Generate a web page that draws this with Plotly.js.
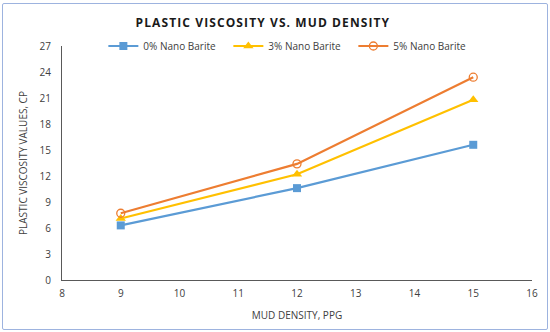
<!DOCTYPE html>
<html>
<head>
<meta charset="utf-8">
<script src="https://cdn.plot.ly/plotly-3.0.1.min.js"></script>
<style>
html,body{margin:0;padding:0;background:#fff;}
#wrap{position:relative;width:550px;height:332px;}
#chart{width:550px;height:332px;}
#frame{position:absolute;left:2px;top:3px;width:544px;height:325px;border:1px solid #9DB3DF;border-radius:2px;pointer-events:none;}
.gtitle{letter-spacing:1.1px;}
</style>
</head>
<body>
<div id="wrap"><div id="chart"></div><div id="frame"></div></div>
<script>
const density = [9, 12, 15];
const seriesNames = ["0% Nano Barite", "3% Nano Barite", "5% Nano Barite"];
const pv0 = [6.3, 10.6, 15.6];
const pv3 = [7.1, 12.2, 20.8];
const pv5 = [7.7, 13.4, 23.4];
const yTicks = [0, 3, 6, 9, 12, 15, 18, 21, 24, 27];
const xTicks = [8, 9, 10, 11, 12, 13, 14, 15, 16];

const font = "Open Sans, Liberation Sans, sans-serif";
const traces = [
  {x: density, y: pv0, name: seriesNames[0], mode: "lines+markers",
   line: {color: "#5B9BD5", width: 2.2}, marker: {symbol: "square", size: 8, color: "#5B9BD5"}},
  {x: density, y: pv3, name: seriesNames[1], mode: "lines+markers",
   line: {color: "#FFC000", width: 2.2}, marker: {symbol: "triangle-up", size: 9, color: "#FFC000"}},
  {x: density, y: pv5, name: seriesNames[2], mode: "lines+markers",
   line: {color: "#ED7D31", width: 2.2}, marker: {symbol: "circle-open", size: 8, color: "#ED7D31", line: {width: 1.3}}}
];
const layout = {
  width: 550, height: 332,
  margin: {l: 62, r: 18, t: 46, b: 52},
  paper_bgcolor: "#fff", plot_bgcolor: "#fff",
  font: {family: font, size: 10, color: "#404040"},
  title: {text: "PLASTIC VISCOSITY VS. MUD DENSITY", x: 0.478, xanchor: "center", y: 0.93, yanchor: "middle",
          font: {family: font, size: 12, color: "#1a1a1a", weight: "bold"}},
  showlegend: true,
  legend: {orientation: "h", x: 0.088, xanchor: "left", y: 1.0, yanchor: "middle",
           font: {family: font, size: 10, color: "#404040"}, bgcolor: "rgba(0,0,0,0)", itemwidth: 30,
           entrywidth: 80},
  xaxis: {range: [8, 16], tickvals: xTicks, ticktext: xTicks.map(String), showgrid: false, zeroline: false,
          showline: true, linecolor: "#595959", linewidth: 1, ticks: "", ticklen: 0, ticklabelstandoff: 4,
          tickfont: {size: 10, color: "#404040"},
          title: {text: "MUD DENSITY, PPG", font: {size: 10, color: "#404040"}, standoff: 12}},
  yaxis: {range: [0, 27], tickvals: yTicks, ticktext: yTicks.map(String), showgrid: false, zeroline: false,
          showline: true, linecolor: "#595959", linewidth: 1, ticks: "", ticklen: 0, ticklabelstandoff: 8,
          tickfont: {size: 10, color: "#404040"},
          title: {text: "PLASTIC VISCOSITY VALUES, CP", font: {size: 10, color: "#404040"}, standoff: 10}}
};
Plotly.newPlot("chart", traces, layout, {displayModeBar: false, staticPlot: true});
</script>
</body>
</html>
